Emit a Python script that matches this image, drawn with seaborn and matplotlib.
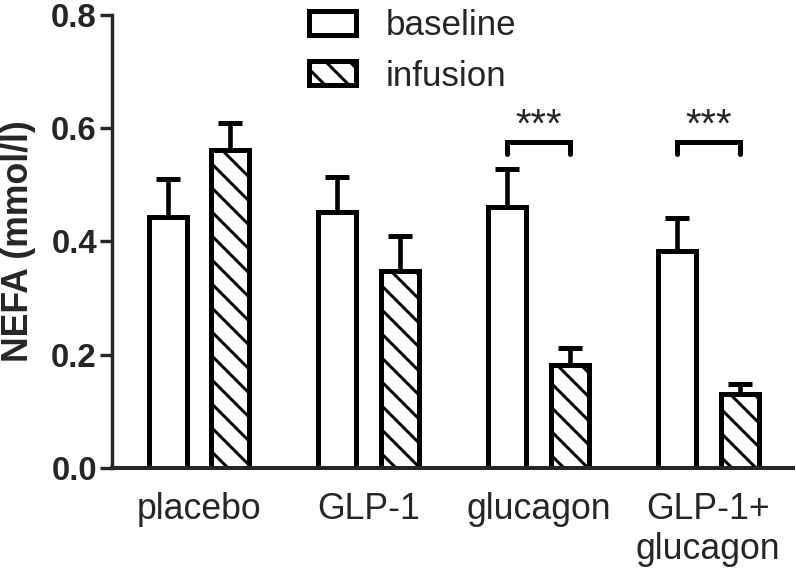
"""NEFA baseline vs infusion bar chart."""

import matplotlib

matplotlib.use("Agg")

import matplotlib.pyplot as plt
import pandas as pd
import seaborn as sns
from matplotlib.ticker import FormatStrFormatter

# data
groups = ["placebo", "GLP-1", "glucagon", "GLP-1+\nglucagon"]
conditions = ["baseline", "infusion"]
baseline_mean = [0.443, 0.452, 0.461, 0.383]
baseline_sem = [0.068, 0.062, 0.066, 0.058]
infusion_mean = [0.561, 0.348, 0.181, 0.131]
infusion_sem = [0.049, 0.062, 0.031, 0.017]
sig_groups = ["glucagon", "GLP-1+\nglucagon"]
sig_label = "***"
sig_low, sig_high = 0.555, 0.576

frame = pd.DataFrame(
    {
        "group": groups * 2,
        "condition": [conditions[0]] * 4 + [conditions[1]] * 4,
        "value": baseline_mean + infusion_mean,
    }
)

sns.set_style("ticks")
plt.rcParams["font.family"] = ["Liberation Sans", "DejaVu Sans"]
plt.rcParams["hatch.linewidth"] = 1.5
plt.rcParams["hatch.color"] = "black"

DPI = 144
fig = plt.figure(figsize=(796 / DPI, 572 / DPI), dpi=DPI)
ax = fig.add_axes([112 / 796, 1 - 467.7 / 572, 681 / 796, 452.7 / 572])

sns.barplot(
    data=frame,
    x="group",
    y="value",
    hue="condition",
    order=groups,
    hue_order=conditions,
    palette=["white", "white"],
    edgecolor="black",
    linewidth=2.5,
    width=0.74,
    gap=0.395,
    errorbar=None,
    legend=False,
    ax=ax,
)

hatches = ["", "\\\\"]
sems = [baseline_sem, infusion_sem]
centers = {}
for container, hatch, sem, cond in zip(ax.containers, hatches, sems, conditions):
    xs, ys = [], []
    for bar, grp in zip(container, groups):
        bar.set_hatch(hatch)
        bar.set_zorder(2)
        cx = bar.get_x() + bar.get_width() / 2
        xs.append(cx)
        ys.append(bar.get_height())
        centers[(grp, cond)] = cx
    ax.errorbar(
        xs,
        ys,
        yerr=[[0] * len(sem), sem],
        fmt="none",
        ecolor="black",
        elinewidth=2.3,
        capsize=6,
        capthick=2.5,
        zorder=1,
    )

for grp in sig_groups:
    x1 = centers[(grp, "baseline")]
    x2 = centers[(grp, "infusion")]
    ax.plot(
        [x1, x1, x2, x2],
        [sig_low, sig_high, sig_high, sig_low],
        color="black",
        linewidth=2.5,
        solid_capstyle="round",
        solid_joinstyle="miter",
    )
    ax.text(
        (x1 + x2) / 2,
        sig_high + 0.009,
        sig_label,
        ha="center",
        va="baseline",
        fontsize=20,
    )

ax.set_xlim(-0.513, 3.50)
ax.set_ylim(0, 0.8)
ax.set_yticks([0.0, 0.2, 0.4, 0.6, 0.8])
ax.yaxis.set_major_formatter(FormatStrFormatter("%.1f"))
ax.set_xlabel("")
ax.set_ylabel("NEFA (mmol/l)", fontsize=17.8, fontweight="bold")
ax.yaxis.set_label_coords(-0.112, 0.5)

ax.tick_params(axis="x", length=0, pad=12, labelsize=17.8)
ax.tick_params(axis="y", length=6, width=1.7, pad=1.5, labelsize=16.5)
for label in ax.get_yticklabels():
    label.set_fontweight("bold")

sns.despine(ax=ax)
ax.spines["left"].set_linewidth(1.7)
ax.spines["bottom"].set_linewidth(2.0)

ax.legend(
    ax.containers,
    conditions,
    loc="upper left",
    bbox_to_anchor=(309 / 796, 1 - 9 / 572),
    bbox_transform=fig.transFigure,
    frameon=False,
    fontsize=17.5,
    borderpad=0,
    borderaxespad=0,
    handlelength=1.35,
    handleheight=0.66,
    handletextpad=0.85,
    labelspacing=0.5,
)

fig.savefig("out.png", dpi=DPI)
plt.close(fig)
